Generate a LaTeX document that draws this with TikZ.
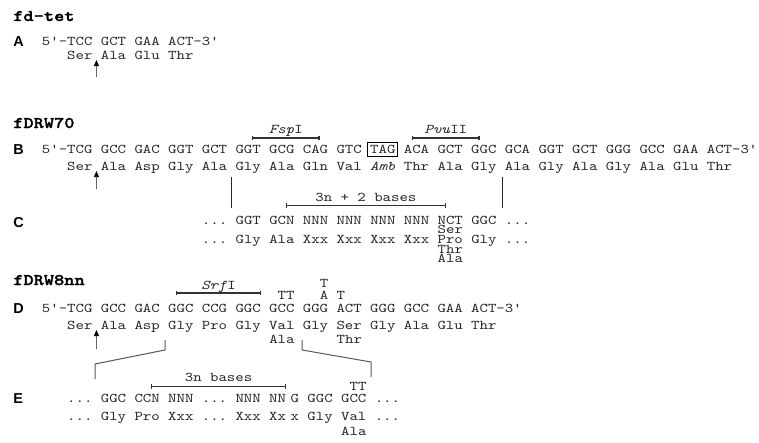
\documentclass[tikz,border=0pt]{standalone}
\usepackage{fontspec}
\newfontfamily\seqf{lmmono10-regular}[Extension=.otf, UprightFont=*, ItalicFont=lmmono10-italic, BoldFont=lmmonolt10-bold, BoldFeatures={FakeBold=1.6}, FakeStretch=1.2]
\newfontfamily\labf{Liberation Sans}
\usetikzlibrary{arrows.meta}
\newcommand\sqfont{\seqf\fontsize{10.02pt}{12pt}\selectfont\frenchspacing}
\newcommand\ttlfont{\seqf\bfseries\fontsize{12.15pt}{14pt}\selectfont\frenchspacing}
\newcommand\labfont{\labf\bfseries\fontsize{10.8pt}{12pt}\selectfont}
\def\gx{41.7}
\def\gp{8.42}
\tikzset{
  seq/.style={anchor=base west, inner sep=0pt, font=\sqfont, text=black!85},
  enz/.style={anchor=base, inner sep=0pt, font=\sqfont, text=black!85},
  ttl/.style={anchor=base west, inner sep=0pt, font=\ttlfont, text=black},
  lab/.style={anchor=base west, inner sep=0pt, font=\labfont, text=black},
  sitebar/.style={draw=black!80, line width=0.8pt, {Bar[width=3.6pt]}-{Bar[width=3.6pt]}},
  ln/.style={draw=black!85, line width=0.75pt},
  brk/.style={draw=black!65, line width=0.75pt},
  cutarrow/.style={draw=black!60, line width=0.6pt, -{Triangle[width=3.8pt,length=4.6pt,color=black]}},
}
\begin{document}
\begin{tikzpicture}[x=0.75pt,y=-0.75pt]
\useasboundingbox[fill=white] (0,0) rectangle (759,442);
% titles
\node[ttl] (t1) at (13,21) {fd-tet};
\node[ttl] (t2) at (13,128) {fDRW70};
\node[ttl] (t3) at (13,285) {fDRW8nn};
% panel labels
\node[lab] (la) at (13,47) {A};
\node[lab] (lb) at (13,154) {B};
\node[lab] (lc) at (13,227) {C};
\node[lab] (ld) at (13,313) {D};
\node[lab] (le) at (13,403) {E};
% ---------- A
\node[seq] (a1) at (\gx,46) {5'-TCC GCT GAA ACT-3'};
\node[seq] (a2) at ({\gx+\gp*3},60) {Ser Ala Glu Thr};
\coordinate (aT) at ({\gx+\gp*6.5},60);
\coordinate (aB) at ({\gx+\gp*6.5},77);
\draw[cutarrow] (aB) -- (aT);
% ---------- B
\node[enz] (fsp) at ({\gx+\gp*29},133) {\textit{Fsp}I};
\coordinate (fspL) at ({\gx+\gp*25},138);
\coordinate (fspR) at ({\gx+\gp*33},138);
\draw[sitebar] (fspL) -- (fspR);
\node[enz] (pvu) at ({\gx+\gp*48},133) {\textit{Pvu}II};
\coordinate (pvuL) at ({\gx+\gp*44},138);
\coordinate (pvuR) at ({\gx+\gp*52},138);
\draw[sitebar] (pvuL) -- (pvuR);
\node[seq] (b1) at (\gx,153) {5'-TCG GCC GAC GGT GCT GGT GCG CAG GTC TAG ACA GCT GGC GCA GGT GCT GGG GCC GAA ACT-3'};
\coordinate (tagA) at ({\gx+\gp*39-2.4},142.5);
\coordinate (tagB) at ({\gx+\gp*42+2.6},156);
\draw[line width=0.75pt] (tagA) rectangle (tagB);
\node[seq] (b2) at ({\gx+\gp*3},170) {Ser Ala Asp Gly Ala Gly Ala Gln Val \textit{Amb} Thr Ala Gly Ala Gly Ala Gly Ala Glu Thr};
\coordinate (bT) at ({\gx+\gp*6.5},171);
\coordinate (bB) at ({\gx+\gp*6.5},189);
\draw[cutarrow] (bB) -- (bT);
\coordinate (v1a) at ({\gx+\gp*22.5},177);
\coordinate (v1b) at ({\gx+\gp*22.5},208);
\coordinate (v2a) at (502,177);
\coordinate (v2b) at (502,208);
\draw[ln] (v1a) -- (v1b);
\draw[ln] (v2a) -- (v2b);
% ---------- C
\node[enz] (c3n) at ({\gx+\gp*38.5},201) {3n + 2 bases};
\coordinate (cL) at ({\gx+\gp*29},205.5);
\coordinate (cR) at ({\gx+\gp*48},205.5);
\draw[sitebar] (cL) -- (cR);
\node[seq] (c1) at ({\gx+\gp*19},224) {... GGT GCN NNN NNN NNN NNN NCT GGC ...};
\node[seq] (cs) at ({\gx+\gp*47},233.7) {Ser};
\node[seq] (c2) at ({\gx+\gp*19},243.4) {... Gly Ala Xxx Xxx Xxx Xxx Pro Gly ...};
\node[seq] (ct) at ({\gx+\gp*47},253.1) {Thr};
\node[seq] (ca) at ({\gx+\gp*47},262.8) {Ala};
% ---------- D
\node[enz] (srf) at ({\gx+\gp*21},289.5) {\textit{Srf}I};
\coordinate (sL) at ({\gx+\gp*16},293);
\coordinate (sR) at ({\gx+\gp*26},293);
\draw[sitebar] (sL) -- (sR);
\node[seq] (d0) at ({\gx+\gp*33},287) {T};
\node[seq] (dtt) at ({\gx+\gp*28},299) {TT};
\node[seq] (dA) at ({\gx+\gp*33},299) {A};
\node[seq] (dT) at ({\gx+\gp*35},299) {T};
\node[seq] (d1) at (\gx,312) {5'-TCG GCC GAC GGC CCG GGC GCC GGG ACT GGG GCC GAA ACT-3'};
\node[seq] (d2) at ({\gx+\gp*3},329) {Ser Ala Asp Gly Pro Gly Val Gly Ser Gly Ala Glu Thr};
\node[seq] (d3) at ({\gx+\gp*27},343) {Ala};
\node[seq] (d4) at ({\gx+\gp*35},343) {Thr};
\coordinate (dT1) at ({\gx+\gp*6.5},330);
\coordinate (dB1) at ({\gx+\gp*6.5},349);
\draw[cutarrow] (dB1) -- (dT1);
\coordinate (k1) at (165,340);
\coordinate (k2) at (165,350);
\coordinate (k3) at (95,364);
\coordinate (k4) at (95,379);
\draw[brk] (k1) -- (k2) -- (k3) -- (k4);
\coordinate (m1) at (302,340);
\coordinate (m2) at (302,350);
\coordinate (m3) at (371,362);
\coordinate (m4) at (371,377);
\draw[brk] (m1) -- (m2) -- (m3) -- (m4);
% ---------- E
\node[enz] (e3n) at ({\gx+\gp*21},381) {3n bases};
\coordinate (eL) at ({\gx+\gp*13},386.5);
\coordinate (eR) at ({\gx+\gp*29},386.5);
\draw[sitebar] (eL) -- (eR);
\node[seq] (ett) at ({\gx+\gp*36+4.5},390) {TT};
\node[seq] (e1) at ({\gx+\gp*3},402) {... GGC CCN NNN ... NNN NN};
\node[seq] (e1b) at ({\gx+\gp*29+4.5},402) {G GGC GCC ...};
\node[seq] (e2) at ({\gx+\gp*3},420) {... Gly Pro Xxx ... Xxx Xx};
\node[seq] (e2b) at ({\gx+\gp*29+4.5},420) {x Gly Val ...};
\node[seq] (e3) at ({\gx+\gp*35+4.5},435) {Ala};
\end{tikzpicture}
\end{document}
